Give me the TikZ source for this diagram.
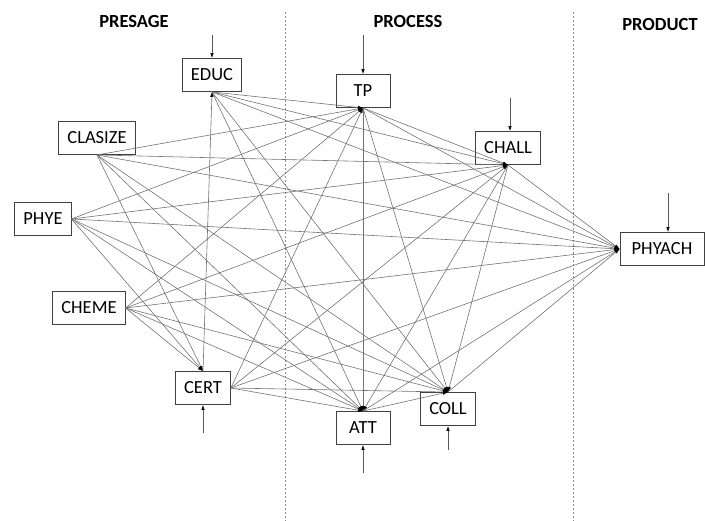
\documentclass[tikz,border=0pt]{standalone}
\usepackage{fontspec}
\setmainfont{Carlito}
\usetikzlibrary{arrows.meta}
\tikzset{
  var/.style={draw=black!75, line width=0.9pt, fill=white, inner xsep=8.5pt,
    minimum width=54pt, minimum height=33pt, font=\fontsize{18.5}{20}\selectfont},
  hdr/.style={font=\bfseries\fontsize{18.5}{20}\selectfont},
  link/.style={draw=black!55, line width=0.6pt,
    -{Latex[length=5pt,width=3.5pt,color=black]}},
  err/.style={draw=black!65, line width=0.6pt,
    -{Latex[length=5pt,width=3.5pt,color=black]}},
  divider/.style={draw=black!45, line width=0.5pt, dash pattern=on 2pt off 2pt}
}
\begin{document}
\begin{tikzpicture}[x=1pt,y=-1pt]
  \useasboundingbox (0,0) rectangle (705,521);
  % headings and dividers
  \node[hdr] (presage) at (134,22) {PRESAGE};
  \node[hdr] (process) at (408,22) {PROCESS};
  \node[hdr] (product) at (660,25) {PRODUCT};
  \draw[divider] (285,12) -- (285,521);
  \draw[divider] (573,12) -- (573,521);
  % presage
  \node[var] (educ) at (212,75) {EDUC};
  \node[var] (clasize) at (97,138) {CLASIZE};
  \node[var] (phye) at (43,219) {PHYE};
  \node[var] (cheme) at (89,308) {CHEME};
  \node[var] (cert) at (203,388) {CERT};
  % process
  \node[var] (tp) at (363,91) {TP};
  \node[var] (chall) at (508,148) {CHALL};
  \node[var] (att) at (363,428) {ATT};
  \node[var] (coll) at (448,409) {COLL};
  % product
  \node[var, minimum width=84pt] (phyach) at (662,249) {PHYACH};
  % error terms
  \foreach \v/\x/\y in {educ/212/35, tp/363/35, chall/510/98, phyach/668/193}{
    \coordinate (e-\v) at (\x,\y);
    \draw[err] (e-\v) -- (e-\v |- \v.north);
  }
  \foreach \v/\x/\y in {cert/203/433, att/363/473, coll/448/450}{
    \coordinate (e-\v) at (\x,\y);
    \draw[err] (e-\v) -- (e-\v |- \v.south);
  }
  % paths
  \foreach \s in {educ.south,clasize.south,phye.east,cheme.east,cert.east}
    \foreach \t in {tp.south,chall.south,phyach.west,att.north,coll.north}
      \draw[link] (\s) -- (\t);
  \foreach \s in {clasize.south,phye.east,cheme.east}
    \draw[link] (\s) -- (cert.north);
  \draw[link, {Latex[length=5pt,width=3.5pt,color=black]}-] (educ.south) -- (cert.north);
  \foreach \s/\t in {tp.south/chall.south, tp.south/att.north, tp.south/coll.north,
      tp.south/phyach.west, chall.south/att.north, chall.south/coll.north,
      chall.south/phyach.west, att.north/coll.north, att.north/phyach.west,
      coll.north/phyach.west}
    \draw[link] (\s) -- (\t);
\end{tikzpicture}
\end{document}
